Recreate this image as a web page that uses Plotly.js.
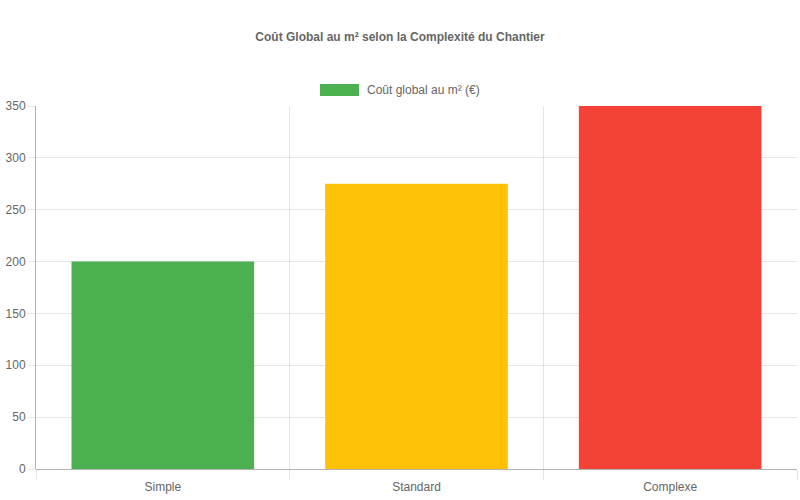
<!DOCTYPE html>
<html>
<head>
<meta charset="utf-8">
<script src="https://cdn.plot.ly/plotly-3.0.1.min.js"></script>
<style>
  html, body { margin: 0; padding: 0; background: #fff; }
  #chart { width: 800px; height: 500px; }
</style>
</head>
<body>
<div id="chart"></div>
<script>
const categories = ['Simple', 'Standard', 'Complexe'];
const costPerM2 = [200, 275, 350];
const barColors = ['#4CAF50', '#FFC107', '#F44336'];
const seriesName = 'Coût global au m² (€)';
const chartTitle = 'Coût Global au m² selon la Complexité du Chantier';

const font = 'Liberation Sans, Arial, Helvetica, sans-serif';
const gridColor = 'rgba(0,0,0,0.1)';
const axisColor = 'rgba(0,0,0,0.3)';

const trace = {
    x: categories,
    y: costPerM2,
    type: 'bar',
    name: seriesName,
    marker: { color: barColors },
    hoverinfo: 'x+y',
    showlegend: false
};

const layout = {
    width: 800,
    height: 500,
    margin: { l: 36, r: 3, t: 106, b: 31 },
    paper_bgcolor: '#fff',
    plot_bgcolor: '#fff',
    font: { family: font, size: 12, color: '#666' },
    title: {
        text: '<b>' + chartTitle + '</b>',
        font: { family: font, size: 12, color: '#666' },
        x: 0.5,
        xanchor: 'center',
        y: 1 - 37 / 500,
        yanchor: 'middle'
    },
    bargap: 0.28,
    xaxis: {
        type: 'category',
        tickson: 'boundaries',
        showgrid: true,
        gridcolor: gridColor,
        ticks: 'outside',
        ticklen: 10,
        tickcolor: gridColor,
        ticklabelstandoff: 9,
        showline: false,
        zeroline: false,
        tickfont: { size: 12, color: '#666' },
        fixedrange: true
    },
    yaxis: {
        range: [0, 350],
        dtick: 50,
        showgrid: true,
        gridcolor: gridColor,
        ticks: 'outside',
        ticklen: 7,
        tickcolor: gridColor,
        showline: true,
        linecolor: axisColor,
        linewidth: 1,
        zeroline: true,
        zerolinecolor: axisColor,
        zerolinewidth: 1,
        tickfont: { size: 12, color: '#666' },
        fixedrange: true
    },
    shapes: [{
        type: 'rect',
        xref: 'paper', yref: 'paper',
        x0: (320 - 36) / 761, x1: (359 - 36) / 761,
        y0: 1 + (106 - 96) / 363, y1: 1 + (106 - 84) / 363,
        fillcolor: barColors[0],
        line: { color: barColors[0], width: 0 }
    }],
    annotations: [{
        text: seriesName,
        xref: 'paper', yref: 'paper',
        x: (365 - 36) / 761,
        y: 1 + (106 - 90) / 363,
        xanchor: 'left',
        yanchor: 'middle',
        showarrow: false,
        font: { family: font, size: 12, color: '#666' }
    }]
};

Plotly.newPlot('chart', [trace], layout, { displayModeBar: false, responsive: false });
</script>
</body>
</html>
